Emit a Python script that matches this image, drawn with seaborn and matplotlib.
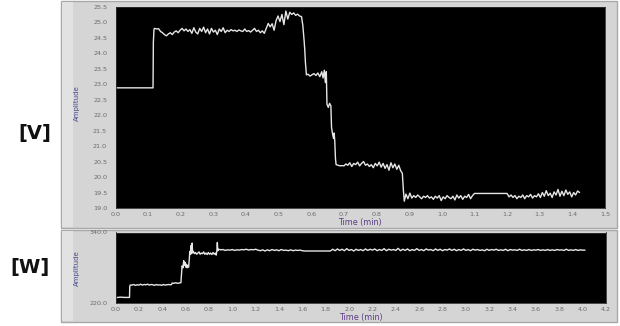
import matplotlib
matplotlib.use("Agg")
import matplotlib.pyplot as plt
import seaborn as sns
import pandas as pd
from matplotlib.patches import Rectangle

# ---------------- data ----------------
top_time = [0.000, 0.115, 0.116, 0.118,
            0.120, 0.126, 0.132, 0.138, 0.144, 0.150, 0.156, 0.162, 0.168, 0.174,
            0.180, 0.186, 0.192, 0.198, 0.204, 0.210, 0.216, 0.222, 0.228, 0.234,
            0.240, 0.246, 0.252, 0.258, 0.264, 0.270, 0.276, 0.282, 0.288, 0.294,
            0.300, 0.306, 0.312, 0.318, 0.324, 0.330, 0.336, 0.342, 0.348, 0.354,
            0.360, 0.366, 0.372, 0.378, 0.384, 0.390, 0.396, 0.402, 0.408, 0.414,
            0.420, 0.426, 0.432, 0.438, 0.444, 0.450, 0.456, 0.462, 0.468, 0.474,
            0.480, 0.486, 0.492, 0.498, 0.504, 0.510, 0.516, 0.522, 0.528, 0.534,
            0.540, 0.546, 0.552, 0.558, 0.564, 0.570, 0.574, 0.578, 0.580, 0.582,
            0.585, 0.590, 0.596, 0.602, 0.608, 0.614, 0.620, 0.626, 0.632, 0.636,
            0.640, 0.643, 0.646, 0.648, 0.652, 0.656, 0.660, 0.662, 0.665, 0.668,
            0.670, 0.672, 0.674, 0.676, 0.682, 0.688, 0.694, 0.700, 0.706, 0.712,
            0.718, 0.724, 0.730, 0.736, 0.742, 0.748, 0.754, 0.760, 0.766, 0.772,
            0.778, 0.784, 0.790, 0.796, 0.802, 0.808, 0.814, 0.820, 0.826, 0.832,
            0.838, 0.844, 0.850, 0.856, 0.862, 0.868, 0.874, 0.879, 0.882, 0.885,
            0.890, 0.896, 0.902, 0.908, 0.914, 0.920, 0.926, 0.932, 0.938, 0.944,
            0.950, 0.956, 0.962, 0.968, 0.974, 0.980, 0.986, 0.992, 0.998, 1.004,
            1.010, 1.016, 1.022, 1.028, 1.034, 1.040, 1.046, 1.052, 1.058, 1.064,
            1.070, 1.076, 1.082, 1.088, 1.094, 1.100, 1.200, 1.206, 1.212, 1.218,
            1.224, 1.230, 1.236, 1.242, 1.248, 1.254, 1.260, 1.266, 1.272, 1.278,
            1.284, 1.290, 1.296, 1.302, 1.308, 1.314, 1.320, 1.326, 1.332, 1.338,
            1.344, 1.350, 1.356, 1.362, 1.368, 1.374, 1.380, 1.386, 1.392, 1.398,
            1.404, 1.410, 1.416, 1.422]
top_amp = [22.88, 22.88, 24.35, 24.78,
           24.80, 24.78, 24.79, 24.70, 24.66, 24.60, 24.56, 24.62, 24.66, 24.60,
           24.68, 24.72, 24.66, 24.74, 24.80, 24.72, 24.78, 24.70, 24.76, 24.64,
           24.82, 24.68, 24.62, 24.80, 24.70, 24.84, 24.66, 24.78, 24.62, 24.80,
           24.68, 24.74, 24.60, 24.78, 24.70, 24.82, 24.66, 24.74, 24.70, 24.76,
           24.72, 24.74, 24.70, 24.75, 24.72, 24.70, 24.78, 24.70, 24.73, 24.68,
           24.74, 24.80, 24.70, 24.74, 24.66, 24.72, 24.64, 24.80, 24.96, 24.85,
           24.95, 24.74, 25.05, 25.20, 25.02, 25.25, 24.92, 25.36, 25.10, 25.32,
           25.25, 25.30, 25.22, 25.26, 25.20, 25.18, 24.90, 24.40, 24.10, 23.70,
           23.30, 23.32, 23.26, 23.30, 23.34, 23.28, 23.36, 23.24, 23.40, 23.20,
           23.45, 23.05, 23.40, 22.35, 22.25, 22.38, 22.30, 21.60, 21.40, 21.25,
           21.42, 21.15, 20.60, 20.40, 20.38, 20.36, 20.37, 20.36, 20.42, 20.38,
           20.46, 20.34, 20.44, 20.40, 20.48, 20.36, 20.44, 20.50, 20.38, 20.42,
           20.34, 20.40, 20.30, 20.44, 20.36, 20.48, 20.32, 20.44, 20.28, 20.40,
           20.22, 20.46, 20.30, 20.42, 20.25, 20.38, 20.20, 20.12, 19.60, 19.22,
           19.45, 19.30, 19.48, 19.32, 19.40, 19.34, 19.42, 19.36, 19.30, 19.38,
           19.34, 19.40, 19.32, 19.36, 19.28, 19.38, 19.32, 19.40, 19.24, 19.36,
           19.30, 19.40, 19.34, 19.30, 19.38, 19.26, 19.42, 19.32, 19.40, 19.28,
           19.38, 19.34, 19.44, 19.30, 19.40, 19.47, 19.47, 19.36, 19.42, 19.34,
           19.40, 19.30, 19.38, 19.34, 19.42, 19.30, 19.40, 19.36, 19.44, 19.32,
           19.40, 19.36, 19.46, 19.34, 19.50, 19.38, 19.56, 19.40, 19.48, 19.34,
           19.52, 19.42, 19.60, 19.38, 19.54, 19.40, 19.58, 19.44, 19.52, 19.36,
           19.50, 19.42, 19.55, 19.50]

bot_time = [0.000, 0.040, 0.080, 0.120, 0.122, 0.126,
            0.140, 0.155, 0.170, 0.185, 0.200, 0.215, 0.230, 0.245, 0.260, 0.275,
            0.290, 0.305, 0.320, 0.335, 0.350, 0.365, 0.380, 0.395, 0.410, 0.425,
            0.440, 0.455, 0.470, 0.480, 0.485, 0.500, 0.515, 0.530, 0.545, 0.560,
            0.565, 0.570, 0.578, 0.584, 0.590, 0.596, 0.602, 0.608, 0.614, 0.620,
            0.626, 0.632, 0.636, 0.642, 0.648, 0.652, 0.656, 0.660, 0.666, 0.675,
            0.685, 0.695, 0.705, 0.715, 0.725, 0.735, 0.745, 0.755, 0.765, 0.775,
            0.785, 0.795, 0.805, 0.815, 0.825, 0.835, 0.845, 0.855, 0.862, 0.868,
            0.872, 0.876, 0.882,
            0.90, 0.92, 0.94, 0.96, 0.98, 1.00, 1.02, 1.04, 1.06, 1.08,
            1.10, 1.12, 1.14, 1.16, 1.18, 1.20, 1.22, 1.24, 1.26, 1.28,
            1.30, 1.32, 1.34, 1.36, 1.38, 1.40, 1.42, 1.44, 1.46, 1.48,
            1.50, 1.52, 1.54, 1.56, 1.58, 1.60, 1.62, 1.64, 1.66, 1.68,
            1.70, 1.72, 1.74, 1.76, 1.78, 1.80, 1.82, 1.84, 1.86, 1.88,
            1.90, 1.92, 1.94, 1.96, 1.98, 2.00, 2.02, 2.04, 2.06, 2.08,
            2.10, 2.12, 2.14, 2.16, 2.18, 2.20, 2.22, 2.24, 2.26, 2.28,
            2.30, 2.32, 2.34, 2.36, 2.38, 2.40, 2.42, 2.44, 2.46, 2.48,
            2.50, 2.52, 2.54, 2.56, 2.58, 2.60, 2.62, 2.64, 2.66, 2.68,
            2.70, 2.72, 2.74, 2.76, 2.78, 2.80, 2.82, 2.84, 2.86, 2.88,
            2.90, 2.92, 2.94, 2.96, 2.98, 3.00, 3.02, 3.04, 3.06, 3.08,
            3.10, 3.12, 3.14, 3.16, 3.18, 3.20, 3.22, 3.24, 3.26, 3.28,
            3.30, 3.32, 3.34, 3.36, 3.38, 3.40, 3.42, 3.44, 3.46, 3.48,
            3.50, 3.52, 3.54, 3.56, 3.58, 3.60, 3.62, 3.64, 3.66, 3.68,
            3.70, 3.72, 3.74, 3.76, 3.78, 3.80, 3.82, 3.84, 3.86, 3.88,
            3.90, 3.92, 3.94, 3.96, 3.98, 4.00, 4.02]
bot_amp = [229.0, 230.0, 229.5, 229.5, 248.0, 250.5,
           250.5, 251.5, 250.0, 251.0, 250.5, 252.0, 250.5, 251.5, 251.0, 252.0,
           250.5, 251.5, 251.0, 250.0, 251.5, 250.5, 251.0, 250.0, 251.5, 250.5,
           251.0, 251.5, 251.0, 251.5, 254.0, 253.5, 254.5, 253.5, 254.0, 254.5,
           270.0, 283.0, 280.0, 292.0, 284.0, 289.0, 281.0, 286.0, 280.0, 284.0,
           281.0, 295.0, 308.0, 303.0, 318.0, 304.0, 322.0, 306.0, 308.0, 304.0,
           306.0, 303.0, 305.0, 307.0, 303.0, 305.0, 304.0, 307.0, 303.0, 305.0,
           302.5, 306.0, 303.0, 305.0, 302.5, 306.0, 303.0, 305.0, 301.5, 309.0,
           323.0, 309.0, 311.5,
           310.5, 311.0, 309.5, 310.5, 310.0, 311.0, 309.5, 310.5, 310.0, 311.0,
           310.5, 311.5, 310.0, 311.0, 310.5, 311.5, 310.0, 309.0, 310.5, 308.5,
           310.5, 309.0, 311.0, 309.5, 310.5, 309.0, 311.0, 309.5, 310.0, 309.0,
           310.5, 309.0, 310.0, 309.5, 310.0, 309.0, 308.5, 308.5, 308.5, 308.5,
           308.5, 308.5, 308.5, 308.5, 308.5, 308.5, 308.5, 308.5, 311.5, 309.0,
           312.0, 309.5, 311.5, 309.0, 312.5, 309.5, 311.0, 308.5, 311.5, 309.5,
           311.0, 309.0, 312.0, 309.5, 311.5, 310.0, 312.0, 309.0, 311.0, 309.5,
           312.5, 309.0, 311.5, 310.0, 311.0, 309.5, 313.0, 309.0, 311.5, 309.5,
           312.0, 309.0, 311.0, 309.5, 312.5, 309.5, 311.0, 309.0, 312.0, 310.0,
           311.0, 309.0, 312.0, 309.5, 311.5, 309.0, 311.0, 310.0, 312.0, 309.5,
           311.5, 309.0, 311.0, 309.5, 312.0, 309.5, 311.0, 309.0, 311.5, 310.0,
           311.0, 309.5, 310.5, 309.0, 311.5, 309.5, 311.0, 310.0, 311.5, 309.5,
           310.5, 309.5, 311.5, 309.0, 311.0, 310.0, 310.5, 309.5, 311.5, 309.5,
           310.5, 309.5, 311.0, 309.5, 310.5, 310.0, 311.0, 309.5, 310.5, 309.5,
           311.0, 309.5, 310.5, 309.5, 311.0, 310.0, 310.5, 309.5, 311.5, 309.5,
           310.5, 309.5, 311.0, 309.5, 310.5, 310.0, 310.0]

top_xticks = [0.0, 0.1, 0.2, 0.3, 0.4, 0.5, 0.6, 0.7, 0.8, 0.9, 1.0, 1.1, 1.2, 1.3, 1.4, 1.5]
top_yticks = [19.0, 19.5, 20.0, 20.5, 21.0, 21.5, 22.0, 22.5, 23.0, 23.5, 24.0, 24.5, 25.0, 25.5]
bot_xticks = [0.0, 0.2, 0.4, 0.6, 0.8, 1.0, 1.2, 1.4, 1.6, 1.8, 2.0, 2.2, 2.4, 2.6, 2.8,
              3.0, 3.2, 3.4, 3.6, 3.8, 4.0, 4.2]
bot_yticks = [220.0, 340.0]
panel_labels = ["[V]", "[W]"]
x_label = "Time (min)"
y_label = "Amplitude"

# ---------------- figure ----------------
sns.set_theme(style="white")
plt.rcParams['font.family'] = ['DejaVu Sans']

W, H = 620, 326
fig = plt.figure(figsize=(W / 100, H / 100), dpi=100)
fig.patch.set_facecolor("white")


def px_rect(x0, y0, x1, y1):
    return [x0 / W, 1 - y1 / H, (x1 - x0) / W, (y1 - y0) / H]


# gray instrument panels (behind the axes)
for (x0, y0, x1, y1) in [(61, 1, 617, 228), (61, 230, 617, 322)]:
    l, b, w, h = px_rect(x0, y0, x1, y1)
    fig.patches.append(Rectangle((l, b), w, h, transform=fig.transFigure,
                                 facecolor="#d5d5d5", edgecolor="#a8a8a8",
                                 linewidth=1.0, zorder=-2))
    l2, b2, w2, h2 = px_rect(x0 + 1, y0 + 1, x0 + 12, y1 - 1)
    fig.patches.append(Rectangle((l2, b2), w2, h2, transform=fig.transFigure,
                                 facecolor="#e2e2e2", edgecolor="none", zorder=-1))

ax1 = fig.add_axes(px_rect(115.5, 6.7, 605, 208))
ax2 = fig.add_axes(px_rect(115.5, 232.5, 606, 303))
ax1.set_zorder(2)
ax2.set_zorder(2)

df_top = pd.DataFrame({"t": top_time, "a": top_amp})
df_bot = pd.DataFrame({"t": bot_time, "a": bot_amp})

line_col = "#e6e6e6"
sns.lineplot(data=df_top, x="t", y="a", ax=ax1, sort=False, estimator=None,
             color=line_col, linewidth=1.0)
sns.lineplot(data=df_bot, x="t", y="a", ax=ax2, sort=False, estimator=None,
             color=line_col, linewidth=1.0)

tick_col = "#6a6a6a"
for ax, xt, yt, xlim, ylim in [(ax1, top_xticks, top_yticks, (0, 1.5), (19.0, 25.5)),
                               (ax2, bot_xticks, bot_yticks, (0, 4.2), (220, 340))]:
    ax.set_facecolor("black")
    ax.set_xlim(*xlim)
    ax.set_ylim(*ylim)
    ax.set_xticks(xt)
    ax.set_yticks(yt)
    ax.set_xticklabels([f"{v:.1f}" for v in xt])
    ax.set_yticklabels([f"{v:.1f}" for v in yt])
    ax.tick_params(axis="y", labelsize=4.6, colors=tick_col, length=3,
                   width=0.6, pad=3, direction="out")
    ax.tick_params(axis="x", labelsize=4.6, colors=tick_col, length=1.5,
                   width=0.6, pad=1.2, direction="out")
    for s in ax.spines.values():
        s.set_color("#303030")
        s.set_linewidth(0.6)
    ax.set_xlabel(x_label, fontsize=5.8, color="#5c3c86", labelpad=0.8)
    ax.set_ylabel(y_label, fontsize=5.0, color="#4a4a90", labelpad=3)

ax1.yaxis.set_label_coords(-0.0725, 0.52)
ax2.yaxis.set_label_coords(-0.0724, 0.5)

fig.text(35 / W, 1 - 133 / H, panel_labels[0], fontsize=14, fontweight="bold",
         ha="center", va="center", color="#111111")
fig.text(30 / W, 1 - 268 / H, panel_labels[1], fontsize=14, fontweight="bold",
         ha="center", va="center", color="#111111")

fig.savefig("out.png", dpi=100, facecolor="white")
